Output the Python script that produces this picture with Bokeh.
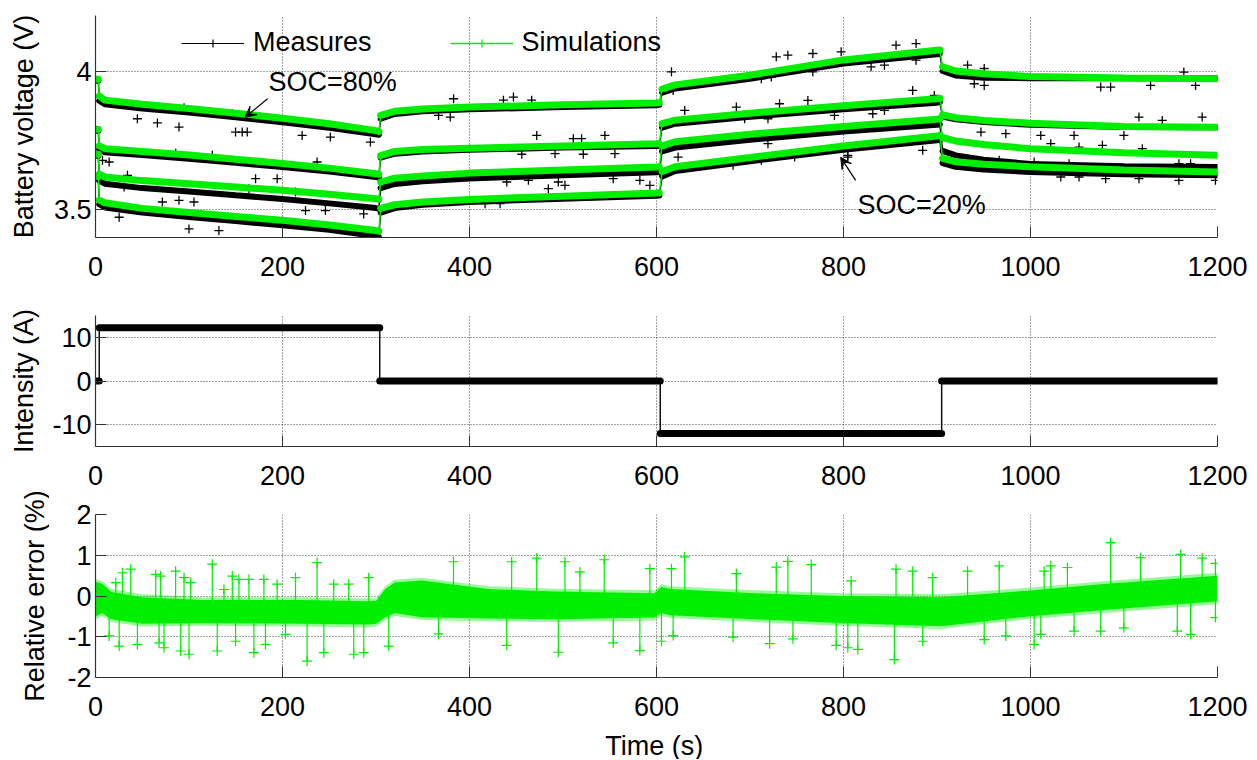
import numpy as np
from bokeh.plotting import figure
from bokeh.layouts import column, row
from bokeh.models import (FixedTicker, CustomJSTickFormatter, Range1d, Label,
                          Arrow, VeeHead, Legend, LegendItem)
from bokeh.embed import file_html
from bokeh.resources import INLINE

# ---------------- data ----------------
time_pts = [0, 3, 4, 10, 50, 100, 150, 200, 250, 300, 303, 305, 320, 350, 400,
            500, 600, 603, 606, 620, 700, 800, 900, 903, 906, 920, 950, 1000, 1100, 1200]

sim_v1 = [3.97, 3.97, 3.91, 3.895, 3.88, 3.865, 3.848, 3.83, 3.81, 3.785, 3.782, 3.84, 3.855, 3.863, 3.87,
          3.878, 3.885, 3.886, 3.935, 3.95, 3.985, 4.04, 4.075, 4.076, 4.015, 4.0, 3.99, 3.98, 3.975, 3.972]
sim_v2 = [3.79, 3.79, 3.73, 3.72, 3.71, 3.697, 3.682, 3.667, 3.65, 3.63, 3.628, 3.695, 3.71, 3.717, 3.722,
          3.73, 3.738, 3.739, 3.81, 3.823, 3.848, 3.875, 3.90, 3.902, 3.842, 3.832, 3.822, 3.812, 3.80, 3.797]
sim_v3 = [3.70, 3.70, 3.628, 3.618, 3.605, 3.594, 3.582, 3.57, 3.556, 3.54, 3.538, 3.60, 3.614, 3.622, 3.632,
          3.643, 3.654, 3.655, 3.73, 3.745, 3.772, 3.80, 3.826, 3.828, 3.76, 3.748, 3.735, 3.72, 3.705, 3.696]
sim_v4 = [3.62, 3.62, 3.535, 3.525, 3.505, 3.49, 3.476, 3.462, 3.445, 3.425, 3.423, 3.505, 3.518, 3.528, 3.537,
          3.549, 3.56, 3.561, 3.638, 3.655, 3.688, 3.73, 3.766, 3.768, 3.685, 3.673, 3.664, 3.655, 3.643, 3.636]

meas_v1 = [3.965, 3.965, 3.893, 3.88, 3.865, 3.85, 3.833, 3.815, 3.795, 3.772, 3.770, 3.828, 3.845, 3.855, 3.862,
           3.87, 3.877, 3.878, 3.922, 3.937, 3.972, 4.027, 4.06, 4.062, 4.0, 3.984, 3.976, 3.974, 3.974, 3.974]
meas_v2 = [3.785, 3.785, 3.718, 3.707, 3.697, 3.684, 3.669, 3.654, 3.638, 3.618, 3.616, 3.688, 3.702, 3.71, 3.716,
           3.724, 3.73, 3.731, 3.796, 3.81, 3.835, 3.862, 3.886, 3.888, 3.836, 3.826, 3.816, 3.806, 3.798, 3.797]
meas_v3 = [3.695, 3.695, 3.605, 3.594, 3.578, 3.566, 3.552, 3.539, 3.523, 3.506, 3.504, 3.578, 3.593, 3.603, 3.613,
           3.624, 3.635, 3.636, 3.71, 3.724, 3.752, 3.782, 3.806, 3.808, 3.712, 3.696, 3.68, 3.665, 3.657, 3.654]
meas_v4 = [3.615, 3.615, 3.52, 3.508, 3.49, 3.474, 3.459, 3.444, 3.428, 3.405, 3.403, 3.49, 3.506, 3.518, 3.528,
           3.54, 3.55, 3.551, 3.62, 3.64, 3.675, 3.716, 3.75, 3.752, 3.668, 3.655, 3.645, 3.636, 3.628, 3.624]

# isolated measurement points (outliers)
meas_out_t = [94.7, 44.8, 66.2, 89.3, 146.3, 149.8, 156.9, 162.3, 221, 251.2, 294, 85.8, 124.9, 237,
              34.2, 30.6, 71.5, 89.3, 105.3, 25.3, 100, 132, 224.6, 245.9, 286.8, 164.1, 213.9, 194.3,
              171.2, 7.5, 14.6,
              383.0, 436.3, 447.0, 466.5, 366.9, 379.4, 471.9, 455.9, 491.5, 521.7, 555.5, 511, 519.9,
              544.8, 439.9, 463, 495, 502.1, 553.7, 582.2, 592.9, 416.7, 432.7, 484.3,
              728.1, 740.5, 767.2, 797.5, 616, 617.8, 644.5, 712.1, 722.8, 767.2, 630.2, 685.4, 731.6,
              761.9, 790.3, 719.2, 694.3, 719.2, 623.1, 681.9, 712.1, 747.7, 804.6,
              856.2, 877.6, 877.6, 829.5, 843.8, 932.7, 950.5, 939.8, 950.5, 1075.1, 1085.7, 1128.4,
              1176.5, 1164, 874, 897.1, 831.3, 843.8, 1116, 1140.9, 1183.6, 947, 973.6, 1011, 1046.6,
              1099.9, 1021.7, 1051.9, 1076.9, 1119.6, 966.5, 1003.9, 1041.3, 1158.7, 1171.2, 1032.4,
              1051.9, 1080.4, 1116, 1158.7, 1197.8, 804.6, 884.7]
meas_out_v = [3.868, 3.828, 3.813, 3.798, 3.846, 3.780, 3.780, 3.780, 3.768, 3.762, 3.744, 3.704, 3.696, 3.672,
              3.624, 3.582, 3.528, 3.534, 3.528, 3.473, 3.431, 3.425, 3.497, 3.497, 3.485, 3.576, 3.564, 3.612,
              3.612, 3.678, 3.672,
              3.900, 3.895, 3.906, 3.895, 3.840, 3.834, 3.768, 3.700, 3.702, 3.700, 3.702, 3.756, 3.756,
              3.768, 3.600, 3.606, 3.600, 3.588, 3.612, 3.606, 3.588, 3.522, 3.522, 3.576,
              4.051, 4.057, 4.063, 4.069, 3.997, 3.930, 3.954, 3.972, 3.978, 3.997, 3.858, 3.870, 3.882,
              3.894, 3.840, 3.828, 3.828, 3.738, 3.690, 3.660, 3.678, 3.690, 3.690,
              4.093, 4.099, 4.039, 4.015, 4.021, 4.021, 4.009, 3.954, 3.948, 3.942, 3.942, 3.948,
              3.948, 3.996, 3.930, 3.912, 3.846, 3.858, 3.834, 3.822, 3.834, 3.780, 3.774, 3.768, 3.768,
              3.768, 3.738, 3.726, 3.732, 3.720, 3.678, 3.672, 3.666, 3.666, 3.666, 3.618,
              3.618, 3.612, 3.612, 3.606, 3.606, 3.696, 3.714]

# current profile
cur_edges = [0, 4, 304, 604, 905, 1200]
cur_levels = [0, 12.2, 0, -12.0, 0]

# relative error band
err_t = [0, 7, 17, 50, 114, 221, 292, 300, 310, 320, 349, 420, 491, 598, 605, 615, 705, 797, 904, 997, 1082, 1200]
err_hi = [0.35, 0.3, 0.1, -0.03, -0.1, -0.1, -0.13, -0.12, 0.17, 0.33, 0.38, 0.17, 0.11, 0.07, 0.22, 0.17, 0.07,
          0.0, -0.03, 0.13, 0.3, 0.5]
err_lo = [-0.5, -0.42, -0.57, -0.68, -0.66, -0.68, -0.7, -0.68, -0.52, -0.42, -0.52, -0.55, -0.57, -0.53,
          -0.42, -0.47, -0.57, -0.66, -0.74, -0.5, -0.34, -0.13]

# relative error spikes
spike_t = [21.7, 28.8, 37.7, 64.4, 69.7, 85.7, 94.7, 101.8, 124.9, 137.4, 146.3, 153.4, 164.1, 180.1, 194.3,
           213.9, 237, 254.8, 270.8, 292.2,
           14.6, 25.3, 44.8, 68, 73.3, 91.1, 100, 130.2, 149.8, 169.4, 181.8, 203.2, 226.3, 244.2, 276.2,
           286.9, 313.6,
           382.9, 445.1, 471.9, 502.1, 518.1, 544.1, 592.9, 616, 630.2, 685.4, 728.1, 740.5, 765.5,
           366.9, 439.8, 495, 553.7, 582.2, 605.3, 617.8, 681.9, 721, 745.9, 792.2,
           808.2, 856.2, 874.0, 895.3, 932.7, 966.5, 1014.6, 1021.7, 1039.5, 1085.7, 1117.8, 1160.5,
           1183.6, 1197.8,
           804.6, 815.3, 854.4, 884.7, 950.5, 973.6, 1003.9, 1011, 1046.6, 1075.1, 1099.9, 1157, 1171.2,
           1197.8]
spike_v = [0.33, 0.57, 0.66, 0.53, 0.49, 0.61, 0.45, 0.33, 0.78, 0.16, 0.49, 0.41, 0.41, 0.41, 0.29,
           0.45, 0.82, 0.29, 0.29, 0.45,
           -0.98, -1.23, -1.19, -1.15, -1.27, -1.35, -1.43, -1.35, -1.11, -1.39, -1.19, -0.94, -1.6, -1.39,
           -1.43, -1.39, -1.23,
           0.84, 0.84, 0.93, 0.84, 0.59, 0.89, 0.67, 0.67, 0.96, 0.55, 0.71, 0.85, 0.77,
           -0.93, -1.21, -1.38, -1.15, -1.34, -1.11, -0.97, -1.01, -1.17, -1.05, -1.21,
           0.37, 0.66, 0.61, 0.45, 0.61, 0.74, 0.61, 0.74, 0.70, 1.31, 0.94, 1.02, 0.93, 0.80,
           -1.27, -1.31, -1.56, -1.11, -1.07, -0.98, -1.19, -0.94, -0.86, -0.86, -0.78, -0.86, -0.94,
           -0.53]

x_ticks = [0, 200, 400, 600, 800, 1000, 1200]

# ---------------- styling ----------------
FONT = "Liberation Sans"
GREEN = "#00ee00"
FS = "27px"
STRIP = 49          # left strip carrying the y-axis titles
W = 1250 - STRIP
TOTAL_H = 759


def make_fig(height, top, bottom, y_rng, y_ticks):
    p = figure(width=W, height=height, output_backend="svg", toolbar_location=None,
               x_range=Range1d(0, 1200), y_range=Range1d(*y_rng),
               min_border_left=44, min_border_right=33, min_border_top=top, min_border_bottom=bottom)
    p.outline_line_color = None
    p.background_fill_color = "white"
    p.border_fill_color = "white"
    fmt = CustomJSTickFormatter(code="return String(tick);")
    p.xaxis.ticker = FixedTicker(ticks=x_ticks)
    p.yaxis.ticker = FixedTicker(ticks=y_ticks)
    for ax in (p.xaxis[0], p.yaxis[0]):
        ax.formatter = fmt
        ax.major_label_text_font = FONT
        ax.major_label_text_font_size = FS
        ax.major_label_text_color = "black"
        ax.axis_line_color = "#333333"
        ax.axis_line_width = 1.2
        ax.major_tick_line_color = "#333333"
        ax.major_tick_in = 11
        ax.major_tick_out = 0
        ax.minor_tick_in = 0
        ax.minor_tick_out = 0
    p.xaxis.major_label_standoff = 19
    p.yaxis.major_label_standoff = 4
    p.grid.grid_line_color = "#444444"
    p.grid.grid_line_dash = "1 2"
    p.grid.grid_line_width = 1
    return p


def bare_fig(width, height, xr, yr):
    p = figure(width=width, height=height, output_backend="svg", toolbar_location=None,
               x_range=Range1d(*xr), y_range=Range1d(*yr), x_axis_type=None, y_axis_type=None,
               min_border_left=0, min_border_right=0, min_border_top=0, min_border_bottom=0)
    p.outline_line_color = None
    p.grid.visible = False
    p.background_fill_color = "white"
    p.border_fill_color = "white"
    return p


# ---------------- top: battery voltage ----------------
p1 = make_fig(292, 15, 55, (3.4, 4.2), [3.5, 4])
pieces = [(0, 2), (2, 11), (11, 18), (18, 24), (24, 30)]
t_arr = np.array(time_pts, dtype=float)

for mv in (meas_v1, meas_v2, meas_v3, meas_v4):
    mv = np.array(mv)
    p1.line(t_arr, mv, line_color="black", line_width=1.5)
    p1.multi_line([list(t_arr[a:b]) for a, b in pieces], [list(mv[a:b]) for a, b in pieces],
                  line_color="black", line_width=6, line_cap="round")

p1.scatter(meas_out_t, meas_out_v, marker="cross", size=9, line_color="black", line_width=1.3)

for sv in (sim_v1, sim_v2, sim_v3, sim_v4):
    sv = np.array(sv)
    p1.line(t_arr, sv, line_color=GREEN, line_width=1.5)
    p1.multi_line([list(t_arr[a:b]) for a, b in pieces], [list(sv[a:b]) for a, b in pieces],
                  line_color=GREEN, line_width=7, line_cap="round")

# legend
lm_line = p1.line([np.nan], [np.nan], line_color="black", line_width=1)
lm_mark = p1.scatter([np.nan], [np.nan], marker="cross", size=10, line_color="black", line_width=1.2)
ls_line = p1.line([np.nan], [np.nan], line_color=GREEN, line_width=1.5)
ls_mark = p1.scatter([np.nan], [np.nan], marker="cross", size=10, line_color=GREEN, line_width=1.2)
legend = Legend(items=[LegendItem(label="Measures", renderers=[lm_line, lm_mark]),
                       LegendItem(label="Simulations", renderers=[ls_line, ls_mark])],
                orientation="horizontal", location=(86, 179),
                glyph_width=63, glyph_height=20, label_standoff=9, spacing=78,
                padding=0, margin=0, border_line_color=None, background_fill_alpha=0,
                label_text_font=FONT, label_text_font_size=FS, label_text_color="black")
p1.add_layout(legend)

p1.add_layout(Label(x=185, y=3.96, text="SOC=80%", text_baseline="alphabetic",
                    text_font=FONT, text_font_size=FS, text_color="black"))
p1.add_layout(Label(x=815, y=3.516, text="SOC=20%", text_baseline="alphabetic",
                    text_font=FONT, text_font_size=FS, text_color="black"))
p1.add_layout(Arrow(end=VeeHead(size=11, fill_color="black", line_color="black"),
                    x_start=184, y_start=3.90, x_end=160, y_end=3.833,
                    line_color="black", line_width=1.2))
p1.add_layout(Arrow(end=VeeHead(size=11, fill_color="black", line_color="black"),
                    x_start=813, y_start=3.606, x_end=797, y_end=3.689,
                    line_color="black", line_width=1.2))

# ---------------- middle: current ----------------
p2 = make_fig(205, 23, 51, (-15, 15), [-10, 0, 10])
step_x, step_y = [], []
for i, lev in enumerate(cur_levels):
    step_x += [cur_edges[i], cur_edges[i + 1]]
    step_y += [lev, lev]
p2.line(step_x, step_y, line_color="#111111", line_width=1.5)
p2.segment(x0=cur_edges[:-1], x1=cur_edges[1:], y0=cur_levels, y1=cur_levels,
           line_color="black", line_width=7, line_cap="round")

# ---------------- bottom: relative error ----------------
p3 = make_fig(231, 17, 51, (-2, 2), [-2, -1, 0, 1, 2])
hi = np.array(err_hi)
lo = np.array(err_lo)
p3.varea(x=err_t, y1=lo - 0.07, y2=hi + 0.07, fill_color=GREEN, fill_alpha=0.4)
p3.varea(x=err_t, y1=lo, y2=hi, fill_color=GREEN)
mid = (hi + lo) / 2
base = np.interp(spike_t, err_t, mid)
p3.segment(x0=spike_t, x1=spike_t, y0=base, y1=spike_v, line_color=GREEN, line_width=1.2)
p3.scatter(spike_t, spike_v, marker="cross", size=10, line_color=GREEN, line_width=1.2)

# ---------------- axis titles (page-pixel strips) ----------------
used_h = 292 + 205 + 231
xtitle = bare_fig(W, TOTAL_H - used_h, (STRIP, 1250), (TOTAL_H, used_h))
xtitle.add_layout(Label(x=647, y=745, text="Time (s)", text_align="center", text_baseline="alphabetic",
                        text_font=FONT, text_font_size=FS, text_color="black"))

ytitles = bare_fig(STRIP, TOTAL_H, (0, STRIP), (TOTAL_H, 0))
for txt, xc, yc in (("Battery voltage (V)", 23, 126), ("Intensity (A)", 23, 380.5),
                    ("Relative error (%)", 34, 595.5)):
    ytitles.add_layout(Label(x=xc, y=yc, text=txt, angle=np.pi / 2, text_align="center",
                             text_baseline="middle", text_font=FONT, text_font_size=FS,
                             text_color="black"))

layout = row(ytitles, column(p1, p2, p3, xtitle, spacing=0), spacing=0)
open("out.html", "w").write(file_html(layout, INLINE))
